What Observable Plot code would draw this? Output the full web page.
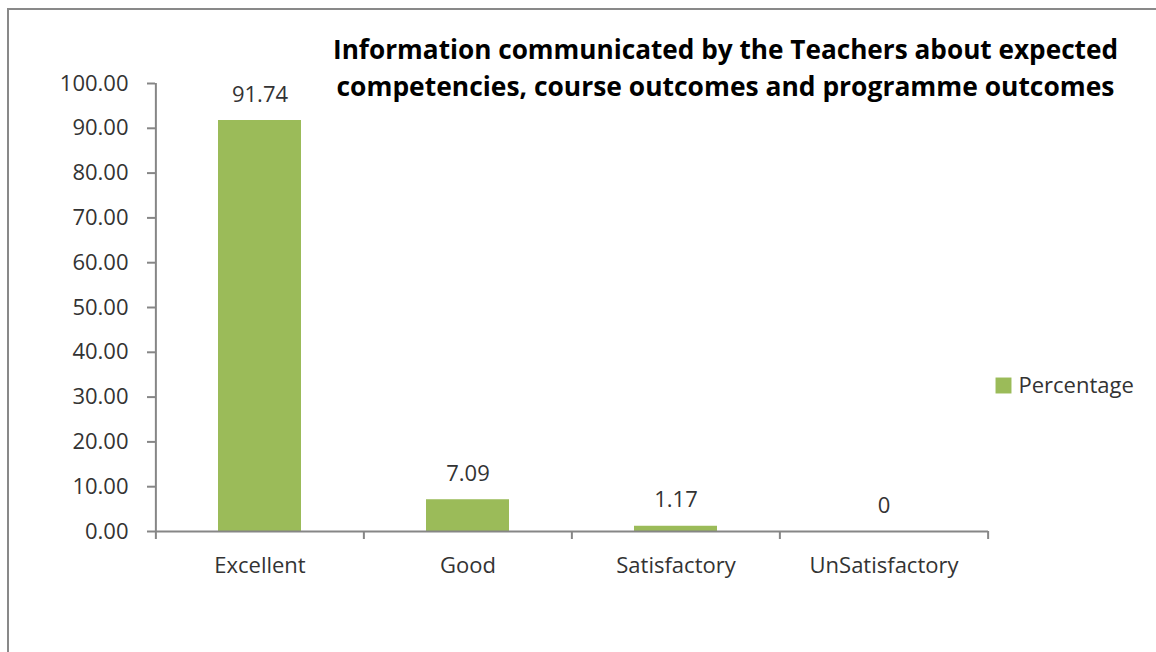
<!DOCTYPE html>
<html><head><meta charset="utf-8">
<script src="https://cdn.jsdelivr.net/npm/d3@7"></script>
<script src="https://cdn.jsdelivr.net/npm/@observablehq/plot@0.6"></script>
<style>
body{margin:0;background:#fff;}
#wrap{position:relative;width:1156px;height:652px;overflow:hidden;}
#border{position:absolute;left:7px;top:8px;right:-10px;bottom:-10px;border-top:2px solid #898989;border-left:2px solid #898989;}
#chart{position:absolute;left:0;top:0;}
</style></head><body>
<div id="wrap"><div id="border"></div><div id="chart"></div></div>
<script>
const categories = ["Excellent", "Good", "Satisfactory", "UnSatisfactory"];
const percentages = [91.74, 7.09, 1.17, 0];
const valueLabels = ["91.74", "7.09", "1.17", "0"];
const yTicks = [0, 10, 20, 30, 40, 50, 60, 70, 80, 90, 100];
const titleLines = [
  "Information communicated by the Teachers about expected",
  "competencies, course outcomes and programme outcomes"
];
const seriesName = "Percentage";

const data = categories.map((c, i) => ({category: c, value: percentages[i], label: valueLabels[i]}));

const W = 1156, H = 652, mL = 155, mR = 168, mT = 83, mB = 121;
const step = (W - mL - mR) / categories.length;
const gray = "#868686", ink = "#333333", green = "#9BBB59";
const font = "'Open Sans', sans-serif";

const plot = Plot.plot({
  width: W, height: H,
  marginLeft: mL, marginRight: mR, marginTop: mT, marginBottom: mB,
  style: {fontFamily: font, fontSize: "22px", color: ink, background: "transparent", overflow: "visible"},
  x: {domain: categories, paddingInner: 0.6, paddingOuter: 0.3},
  y: {domain: [0, 100]},
  marks: [
    Plot.barY(data, {x: "category", y: "value", fill: green}),
    Plot.ruleY([0], {stroke: gray, strokeWidth: 2}),
    Plot.ruleX([categories[0]], {x: d => d, dx: -step / 2, y1: 0, y2: 100, stroke: gray, strokeWidth: 2}),
    Plot.ruleX(categories, {x: d => d, dx: -step / 2, y1: 0, y2: 0, insetBottom: -8, stroke: gray, strokeWidth: 2}),
    Plot.ruleX([categories[categories.length - 1]], {x: d => d, dx: step / 2, y1: 0, y2: 0, insetBottom: -8, stroke: gray, strokeWidth: 2}),
    Plot.axisY({ticks: yTicks, tickFormat: d3.format(".2f"), tickSize: 8, tickPadding: 19, stroke: gray, strokeWidth: 2, label: null, fontSize: 22, fill: ink}),
    Plot.axisX({tickSize: 0, tickPadding: 26, label: null, fontSize: 22, fill: ink}),
    Plot.text(data, {x: "category", y: "value", text: "label", dy: -26, lineAnchor: "middle", fontSize: 22, fill: ink}),
    Plot.dot([seriesName], {frameAnchor: "right", dx: 15, dy: 78, symbol: "square", r: 9, fill: green}),
    Plot.text([seriesName], {frameAnchor: "right", dx: 30, dy: 78, text: d => d, textAnchor: "start", lineAnchor: "middle", fontSize: 22, fill: ink})
  ]
});

const svg = d3.select(plot);
const titleWidths = [785, 778];
titleLines.forEach((t, i) => {
  svg.append("text")
    .attr("x", 725.5).attr("y", 59 + i * 37)
    .attr("text-anchor", "middle")
    .attr("font-family", font).attr("font-weight", 700).attr("font-size", 26)
    .attr("fill", "#000")
    .attr("textLength", titleWidths[i]).attr("lengthAdjust", "spacingAndGlyphs")
    .text(t);
});
document.getElementById("chart").appendChild(plot);
</script>
</body></html>
